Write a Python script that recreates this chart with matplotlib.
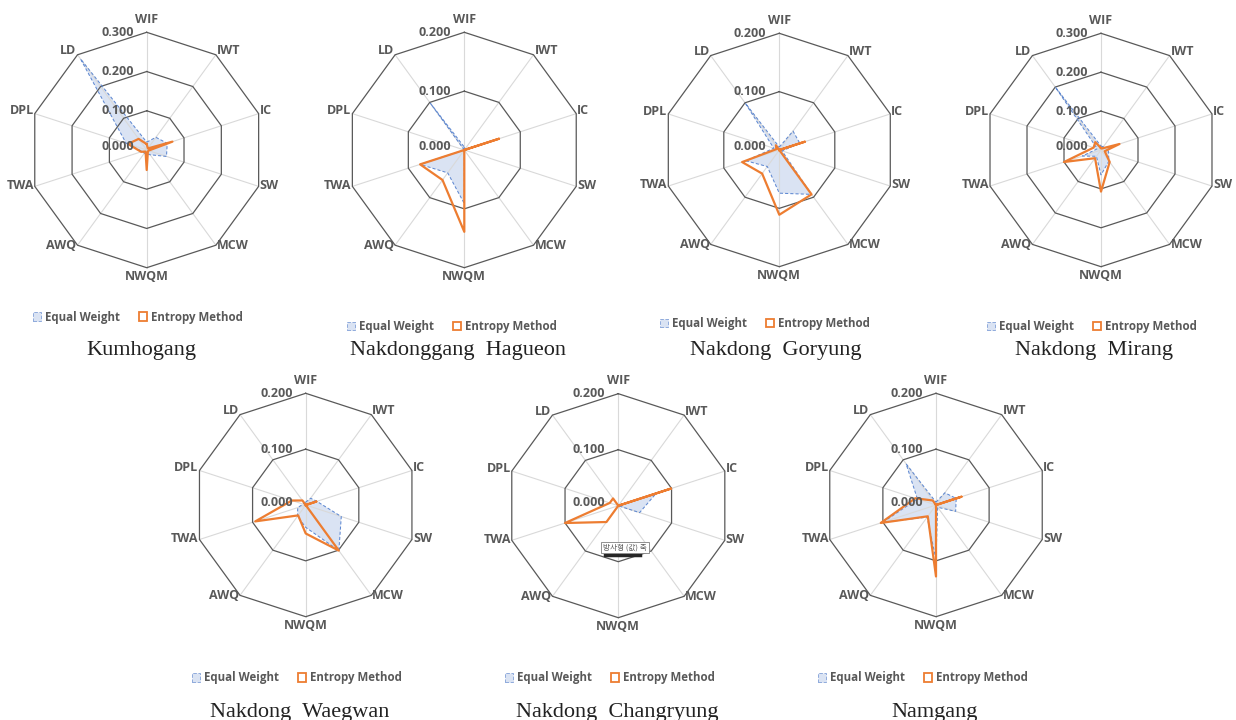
import matplotlib.pyplot as plt
import numpy as np
from matplotlib.patches import Patch
from matplotlib.lines import Line2D

# radar categories (clockwise from top)
categories = ['WIF', 'IWT', 'IC', 'SW', 'MCW', 'NWQM', 'AWQ', 'TWA', 'DPL', 'LD']

sites = ['Kumhogang', 'Nakdonggang  Hagueon', 'Nakdong  Goryung', 'Nakdong  Mirang',
         'Nakdong  Waegwan', 'Nakdong  Changryung', 'Namgang']

# weights
equal_kumhogang = [0.020, 0.040, 0.055, 0.053, 0.015, 0.010, 0.010, 0.012, 0.055, 0.287]
entropy_kumhogang = [0.015, 0.005, 0.069, 0.005, 0.005, 0.051, 0.005, 0.015, 0.050, 0.035]

equal_hagueon = [0.005, 0.0, 0.0, 0.0, 0.0, 0.091, 0.048, 0.079, 0.0, 0.098]
entropy_hagueon = [0.0, 0.0, 0.062, 0.0, 0.0, 0.139, 0.063, 0.079, 0.0, 0.0]

equal_goryung = [0.005, 0.040, 0.037, 0.005, 0.094, 0.074, 0.035, 0.060, 0.010, 0.099]
entropy_goryung = [0.0, 0.0, 0.046, 0.0, 0.094, 0.111, 0.050, 0.067, 0.005, 0.010]

equal_mirang = [0.010, 0.010, 0.020, 0.020, 0.035, 0.064, 0.020, 0.050, 0.010, 0.200]
entropy_mirang = [0.005, 0.005, 0.050, 0.010, 0.038, 0.107, 0.026, 0.100, 0.020, 0.025]

equal_waegwan = [0.005, 0.015, 0.021, 0.067, 0.101, 0.040, 0.025, 0.015, 0.005, 0.005]
entropy_waegwan = [0.0, 0.0, 0.020, 0.0, 0.101, 0.051, 0.023, 0.095, 0.026, 0.010]

equal_changryung = [0.0, 0.0, 0.071, 0.040, 0.0, 0.0, 0.0, 0.0, 0.0, 0.0]
entropy_changryung = [0.0, 0.0, 0.099, 0.0, 0.0, 0.0, 0.036, 0.100, 0.016, 0.016]

equal_namgang = [0.005, 0.027, 0.038, 0.037, 0.005, 0.098, 0.027, 0.100, 0.035, 0.091]
entropy_namgang = [0.0, 0.0, 0.048, 0.0, 0.0, 0.128, 0.025, 0.104, 0.039, 0.010]

equal_all = [equal_kumhogang, equal_hagueon, equal_goryung, equal_mirang,
             equal_waegwan, equal_changryung, equal_namgang]
entropy_all = [entropy_kumhogang, entropy_hagueon, entropy_goryung, entropy_mirang,
               entropy_waegwan, entropy_changryung, entropy_namgang]
axis_max = [0.3, 0.2, 0.2, 0.3, 0.2, 0.2, 0.2]

# layout in pixels: chart centre x, y, outer radius
W, H = 1236, 720
centres = [(146.7, 150, 117.7), (464.3, 150, 117.7), (779.3, 150, 116.7), (1101, 150, 116.7),
           (305.7, 505, 111.7), (618.3, 505.7, 112), (936, 505, 111.7)]
legend_pos = [(33, 317), (347, 327), (660, 324), (987, 327), (192, 678), (505, 678), (818, 678)]
title_pos = [(141, 355), (458, 355), (776, 355), (1094, 355), (300, 717), (617, 717), (935, 717)]

grey = '#595959'
sans = 'Open Sans'

fig = plt.figure(figsize=(12.36, 7.2), dpi=100)

theta = np.linspace(0, 2 * np.pi, len(categories), endpoint=False)
tc = np.append(theta, theta[0])

for i in range(len(sites)):
    cx, cy, R = centres[i]
    rmax = axis_max[i]
    ax = fig.add_axes([(cx - R) / W, 1 - (cy + R) / H, 2 * R / W, 2 * R / H], projection='polar')
    ax.set_theta_zero_location('N')
    ax.set_theta_direction(-1)
    ax.set_ylim(0, rmax)
    ax.grid(False)
    ax.set_xticks([])
    ax.set_yticks([])
    ax.spines['polar'].set_visible(False)
    ax.patch.set_alpha(0)

    # spokes and decagon rings
    for t in theta:
        ax.plot([t, t], [0, rmax], color='#d9d9d9', lw=0.8, clip_on=False)
    rings = np.arange(0.1, rmax + 1e-9, 0.1)
    for v in rings:
        ax.plot(tc, [v] * len(tc), color=grey, lw=0.9, clip_on=False)

    ew = np.append(equal_all[i], equal_all[i][0])
    en = np.append(entropy_all[i], entropy_all[i][0])
    ax.fill(tc, ew, facecolor='#dae3f3', edgecolor='none', clip_on=False)
    ax.plot(tc, ew, color='#5f89d2', lw=0.75, ls=(0, (3, 2)), clip_on=False)
    ax.plot(tc, en, color='#ed7d31', lw=1.6, clip_on=False)

    # radial tick labels
    for v in np.append(0.0, rings):
        ax.annotate(f'{v:.3f}', xy=(0, v), xytext=(-13, 3 if v == 0 else 0),
                    textcoords='offset pixels', ha='right', va='center',
                    fontsize=9, fontweight='bold', color=grey, family=sans,
                    annotation_clip=False)

    # category labels
    for t, cat in zip(theta, categories):
        s, c = np.sin(t), np.cos(t)
        if abs(s) < 0.1:
            ha, dx, dy = 'center', 0, 2 + 11 * c
        else:
            ha = 'left' if s > 0 else 'right'
            dx, dy = np.sign(s), 2 + 2.5 * c
        ax.annotate(cat, xy=(t, rmax), xytext=(dx, dy), textcoords='offset pixels',
                    ha=ha, va='center', fontsize=9, fontweight='bold', color=grey,
                    family=sans, annotation_clip=False)

    handles = [Patch(facecolor='#dae3f3', edgecolor='#8faadc', linestyle='--', lw=0.7),
               Patch(facecolor='white', edgecolor='#ed7d31', lw=1.3)]
    lx, ly = legend_pos[i]
    fig.legend(handles, ['Equal Weight', 'Entropy Method'], loc='center left',
               bbox_to_anchor=(lx / W, 1 - ly / H), ncol=2, frameon=False,
               prop=dict(family=sans, weight='bold', size=8.3), labelcolor=grey,
               handlelength=0.7, handleheight=0.7, handletextpad=0.35,
               columnspacing=1.6, borderpad=0, borderaxespad=0)

    tx, ty = title_pos[i]
    fig.text(tx / W, 1 - ty / H, sites[i], ha='center', va='baseline',
             fontsize=16, family='Liberation Serif', color='#222222')

# stray Excel tooltip visible in the source picture
fig.add_artist(Line2D([605 / W, 640 / W], [1 - 555 / H] * 2, color='#262626', lw=2.5))
fig.text(625 / W, 1 - 547.5 / H, '방사형 (값) 축', ha='center', va='center', fontsize=5.5,
         family=['Noto Sans CJK KR', 'DejaVu Sans'], color=grey,
         bbox=dict(facecolor='white', edgecolor='#7f7f7f', lw=0.6, boxstyle='square,pad=0.25'))

fig.savefig('out.png', dpi=100, facecolor='white')
